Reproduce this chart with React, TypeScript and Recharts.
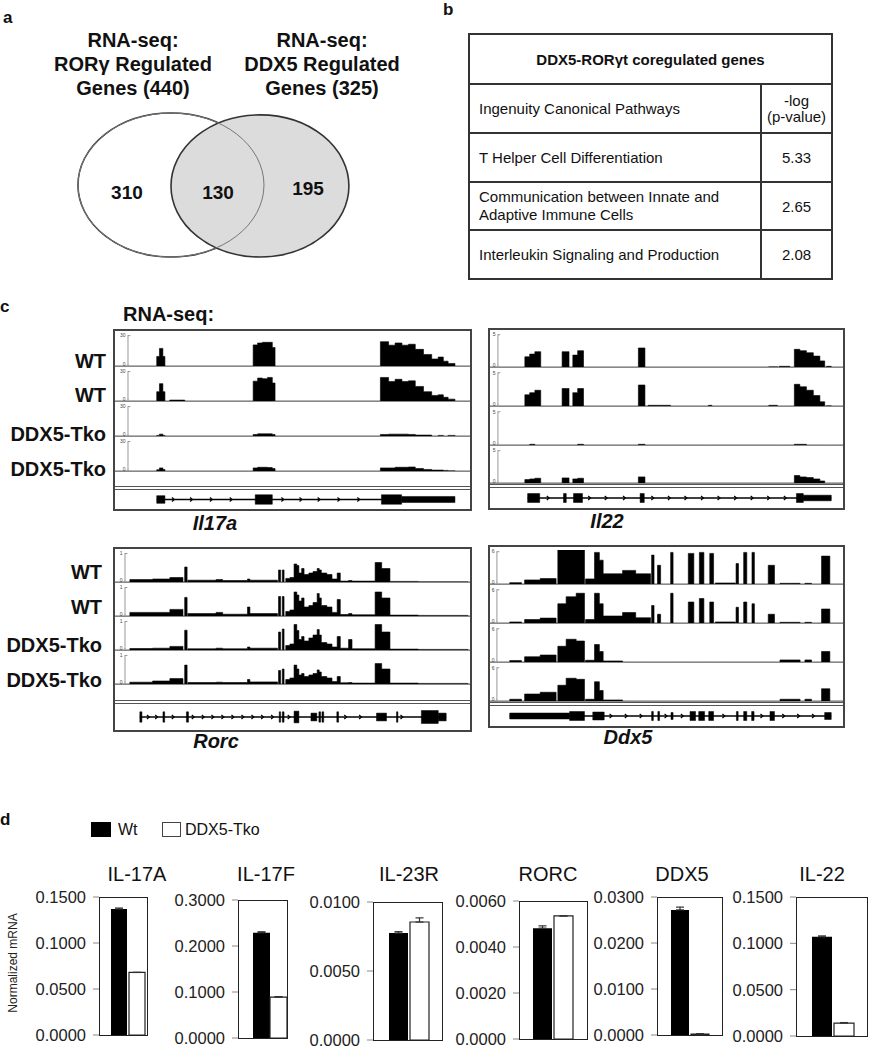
import React from "react";
import {
  AreaChart,
  Area,
  BarChart,
  Bar,
  ErrorBar,
  ComposedChart,
  Scatter,
  ScatterChart,
  XAxis,
  YAxis,
  ReferenceLine,
  ReferenceArea,
  ReferenceDot,
} from "recharts";

const FONT = '"Liberation Sans", Arial, Helvetica, sans-serif';

type Seg = [number, number];
type Exon = [number, number, number];

// ---- panel a: Venn ----
const vennSets = [
  { x: 35.8, y: 50, rx: 30, ry: 45 },
  { x: 64.5, y: 49.4, rx: 28.7, ry: 44.4 },
];
const vennCounts = [310, 130, 195];
const vennCountX = [21.6, 51, 80];
const vennCountY = [45.6, 45.6, 48.1];

// ---- panel b: pathways ----
const pathways = [
  ["T Helper Cell Differentiation"],
  ["Communication between Innate and", "Adaptive Immune Cells"],
  ["Interleukin Signaling and Production"],
];
const pathwayScores = ["5.33", "2.65", "2.08"];

// ---- panel c: coverage tracks (positions in % of locus, heights relative to track scale) ----
const sampleLabels = ["WT", "WT", "DDX5-Tko", "DDX5-Tko"];

const il17aSegs: Seg[] = [
  [8.4, 9.2], [9.2, 10.2], [10.2, 10.8], [12.2, 16.6],
  [36.6, 37.9], [37.9, 39.3], [39.3, 40.8], [40.8, 42.2], [42.2, 43.0],
  [73.8, 76.2], [76.2, 78.1], [78.1, 80.1], [80.1, 82.0], [82.0, 84.0], [84.0, 86.4],
  [86.4, 88.8], [88.8, 90.7], [90.7, 92.2], [92.2, 93.6], [93.6, 95.6],
];
const il17aCov = [
  [0.3, 0.55, 0.3, 0, 0.66, 0.72, 0.74, 0.74, 0.58, 0.76, 0.65, 0.72, 0.65, 0.68, 0.52, 0.36, 0.22, 0.28, 0.15, 0.08],
  [0.3, 0.56, 0.3, 0.03, 0.64, 0.74, 0.72, 0.76, 0.58, 0.76, 0.63, 0.7, 0.63, 0.65, 0.47, 0.3, 0.18, 0.2, 0.12, 0.06],
  [0.02, 0.06, 0.02, 0, 0.05, 0.07, 0.07, 0.07, 0.05, 0.05, 0.06, 0.06, 0.06, 0.05, 0.03, 0.03, 0, 0.02, 0, 0.02],
  [0.04, 0.1, 0.05, 0, 0.1, 0.12, 0.12, 0.11, 0.08, 0.1, 0.1, 0.12, 0.12, 0.13, 0.08, 0.05, 0.03, 0.03, 0.02, 0.01],
];
const il17aLine: Seg = [8.4, 95.6];
const il17aExons: Exon[] = [[8.4, 10.8, 0.4], [37.2, 42.2, 0.5], [74.1, 80.0, 0.5], [80.0, 95.6, 0.32]];
const il17aMarks = [13.2, 18.5, 24.3, 30.1, 45.2, 50.5, 55.8, 61.6, 67.4];

const il22Segs: Seg[] = [
  [7.8, 9.2], [9.2, 10.7], [10.7, 12.4], [18.6, 20.6], [21.7, 23.1], [23.1, 24.8],
  [40.7, 42.6], [43.5, 50.0], [61.0, 62.0], [78.5, 81.0], [81.5, 84.6],
  [85.9, 87.5], [87.5, 89.4], [89.4, 91.4], [91.4, 93.3], [93.3, 94.7], [95.2, 96.6],
];
const il22Cov = [
  [0.3, 0.38, 0.45, 0.45, 0.35, 0.48, 0.56, 0, 0, 0.01, 0.02, 0.52, 0.48, 0.42, 0.32, 0.18, 0.02],
  [0.32, 0.38, 0.45, 0.5, 0.38, 0.5, 0.6, 0.02, 0.02, 0.02, 0, 0.62, 0.55, 0.45, 0.3, 0.12, 0.01],
  [0, 0.02, 0, 0, 0, 0.02, 0.02, 0, 0, 0, 0, 0.02, 0.02, 0, 0, 0, 0],
  [0.1, 0.12, 0.14, 0.15, 0.12, 0.14, 0.18, 0, 0, 0, 0, 0.22, 0.18, 0.16, 0.12, 0.06, 0],
];
const il22Line: Seg = [8.6, 96.6];
const il22Exons: Exon[] = [
  [8.6, 12.1, 0.45], [19.0, 19.8, 0.45], [21.9, 24.5, 0.45], [41.2, 42.4, 0.45],
  [86.5, 88.5, 0.45], [88.5, 96.6, 0.28],
];
const il22Marks = [14.5, 26.5, 31.3, 36.6, 44.8, 49.6, 54.4, 59.2, 64.0, 68.8, 73.6, 78.4, 83.2];

const rorcSegs: Seg[] = [
  [1.4, 8.0], [8.0, 13.0], [13.0, 16.8], [17.3, 18.0], [18.2, 26.4], [26.4, 28.3], [28.3, 35.5],
  [35.5, 36.2], [36.2, 44.2], [44.5, 45.1], [45.6, 46.1], [46.6, 47.8], [47.8, 49.0], [49.0, 49.8],
  [49.8, 50.4], [50.4, 51.2], [51.2, 51.9], [51.9, 53.3], [53.3, 54.5], [54.5, 55.7], [55.7, 56.3],
  [56.3, 56.9], [56.9, 58.5], [58.5, 60.0], [60.0, 61.5], [61.5, 62.4], [62.4, 64.8], [64.8, 65.8],
  [65.8, 72.5], [72.5, 74.4], [74.4, 76.8], [76.8, 85.0], [85.0, 99.4],
];
const rorcCov = [
  [0.08, 0.1, 0.15, 0.5, 0.06, 0.08, 0.05, 0.1, 0.06, 0.4, 0.4, 0.12, 0.15, 0.6, 0.55, 0.3, 0.45, 0.25, 0.3, 0.35, 0.45, 0.4, 0.3, 0.25, 0.1, 0.3, 0.03, 0.05, 0.03, 0.65, 0.45, 0.02, 0.01],
  [0.12, 0.12, 0.22, 0.62, 0.08, 0.12, 0.06, 0.3, 0.08, 0.65, 0.65, 0.15, 0.2, 0.8, 0.7, 0.5, 0.6, 0.3, 0.35, 0.45, 0.75, 0.6, 0.35, 0.3, 0.12, 0.55, 0.05, 0.08, 0.04, 0.8, 0.6, 0.03, 0.02],
  [0.05, 0.06, 0.12, 0.66, 0.04, 0.06, 0.04, 0.1, 0.06, 0.6, 0.7, 0.15, 0.2, 0.85, 0.65, 0.35, 0.45, 0.3, 0.4, 0.5, 0.68, 0.5, 0.25, 0.2, 0.1, 0.45, 0.06, 0.35, 0.04, 0.85, 0.6, 0.03, 0.02],
  [0.06, 0.1, 0.18, 0.63, 0.05, 0.06, 0.05, 0.15, 0.07, 0.45, 0.5, 0.15, 0.2, 0.63, 0.5, 0.3, 0.35, 0.25, 0.3, 0.35, 0.47, 0.4, 0.25, 0.2, 0.08, 0.25, 0.04, 0.05, 0.03, 0.68, 0.5, 0.03, 0.02],
];
const rorcLine: Seg = [4.3, 93.1];
const rorcExons: Exon[] = [
  [4.3, 4.9, 0.4], [11.0, 11.5, 0.4], [17.8, 18.4, 0.4], [44.7, 45.1, 0.4], [45.6, 46.1, 0.4],
  [49.0, 50.4, 0.45], [53.9, 55.6, 0.3], [56.2, 56.7, 0.4], [57.1, 57.6, 0.4], [61.4, 61.9, 0.4],
  [72.9, 75.8, 0.3], [78.7, 79.1, 0.4], [85.9, 90.8, 0.5], [90.8, 93.1, 0.3],
];
const rorcMarks = [6.7, 9.1, 13.9, 19.7, 22.6, 25.4, 28.3, 31.2, 34.1, 37.0, 39.8, 42.7, 47.5, 63.9, 68.2, 80.2];

const ddx5Segs: Seg[] = [
  [3.7, 7.1], [8.0, 12.5], [12.5, 17.1], [17.6, 20.0], [20.0, 22.9], [22.9, 25.3], [25.6, 28.2],
  [28.2, 29.6], [29.6, 30.7], [30.7, 36.3], [36.3, 40.1], [40.1, 44.4], [44.7, 45.4], [46.4, 47.3],
  [50.2, 50.9], [55.3, 56.9], [58.5, 59.8], [61.5, 62.6], [63.1, 68.9], [69.1, 69.8], [71.3, 72.2],
  [73.7, 74.4], [78.4, 80.2], [81.8, 87.6], [89.0, 90.9], [93.8, 96.2],
];
const ddx5Cov = [
  [0.04, 0.12, 0.16, 1, 1, 1, 0.15, 0.93, 0.7, 0.3, 0.4, 0.3, 0.85, 0.55, 0.93, 0.9, 0.93, 0.9, 0.03, 0.6, 0.93, 0.93, 0.55, 0.02, 0.02, 0.82],
  [0.03, 0.1, 0.14, 0.55, 0.75, 0.85, 0.1, 0.85, 0.55, 0.2, 0.3, 0.15, 0.5, 0.25, 0.85, 0.6, 0.7, 0.6, 0.03, 0.45, 0.6, 0.55, 0.25, 0.02, 0.02, 0.4],
  [0.04, 0.15, 0.2, 0.45, 0.65, 0.6, 0.05, 0.5, 0.3, 0.03, 0, 0, 0, 0, 0, 0, 0, 0, 0, 0, 0, 0, 0, 0.06, 0.06, 0.3],
  [0.05, 0.2, 0.25, 0.45, 0.65, 0.62, 0.05, 0.55, 0.3, 0.03, 0, 0, 0, 0, 0, 0, 0, 0, 0, 0, 0, 0, 0, 0.05, 0.05, 0.35],
];
const ddx5Line: Seg = [3.7, 96.6];
const ddx5Exons: Exon[] = [
  [3.7, 21.0, 0.3], [21.0, 25.3, 0.45], [27.7, 31.0, 0.4], [44.7, 45.2, 0.45], [46.5, 47.0, 0.45],
  [50.3, 50.9, 0.35], [55.8, 57.4, 0.45], [58.3, 60.0, 0.45], [61.2, 62.6, 0.45], [69.2, 69.7, 0.45],
  [71.3, 72.2, 0.45], [73.6, 74.3, 0.45], [78.9, 80.2, 0.45], [94.7, 96.6, 0.35],
];
const ddx5Marks = [32.9, 37.3, 41.6, 48.8, 53.5, 65.5, 76.5, 82.8, 87.1, 91.4];

// ---- panel d: qPCR ----
const genes = ["IL-17A", "IL-17F", "IL-23R", "RORC", "DDX5", "IL-22"];
const wtValues = [0.137, 0.229, 0.00775, 0.00482, 0.0272, 0.107];
const tkoValues = [0.068, 0.089, 0.00855, 0.00535, 0.0002, 0.014];
const wtErr = [0.001, 0.002, 0.0001, 0.0001, 0.0006, 0.001];
const tkoErr = [0, 0.001, 0.0003, 0, 0.0001, 0.0005];
const yMax = [0.15, 0.3, 0.01, 0.006, 0.03, 0.15];
const yTicks = [
  [0, 0.05, 0.1, 0.15],
  [0, 0.1, 0.2, 0.3],
  [0, 0.005, 0.01],
  [0, 0.002, 0.004, 0.006],
  [0, 0.01, 0.02, 0.03],
  [0, 0.05, 0.1, 0.15],
];

// ---------------- helpers ----------------
const Txt = ({
  x, y, children, size = 16, bold = false, italic = false, anchor = "middle",
}: {
  x: number; y: number; children: React.ReactNode; size?: number; bold?: boolean; italic?: boolean; anchor?: string;
}) => {
  const tx = anchor === "middle" ? "-50%" : anchor === "end" ? "-100%" : "0";
  return (
    <div
      style={{
        position: "absolute", left: x, top: y, transform: `translate(${tx}, -50%)`,
        fontSize: size, fontWeight: bold ? 700 : 400, fontStyle: italic ? "italic" : "normal",
        whiteSpace: "nowrap", lineHeight: 1.15, color: "#111",
      }}
    >
      {children}
    </div>
  );
};

const buildCoverage = (segs: Seg[], heights: number[], start: number) => {
  const pts = [{ x: start, v: 0 }];
  segs.forEach(([a, b], i) => {
    pts.push({ x: a, v: heights[i] });
    const next = segs[i + 1];
    if (!next || next[0] > b) pts.push({ x: b, v: 0 });
  });
  pts.push({ x: 100, v: 0 });
  return pts;
};

const markShape = (p: any) => (
  <path d={`M${p.cx - 1.2},${p.cy - 2} L${p.cx + 1.2},${p.cy} L${p.cx - 1.2},${p.cy + 2}`} stroke="#000" strokeWidth={1.2} fill="none" />
);

interface PanelProps {
  left: number; top: number; width: number;
  tracks: number[]; blank: number; geneH: number; pad: number; scale: string;
  segs: Seg[]; cov: number[][]; line: Seg; exons: Exon[]; marks: number[];
}

const TrackPanel = ({ left, top, width, tracks, blank, geneH, pad, scale, segs, cov, line, exons, marks }: PanelProps) => {
  const inner = width - 4;
  return (
    <div style={{ position: "absolute", left, top, width, border: "2px solid #444", boxSizing: "border-box", background: "#fff" }}>
      {tracks.map((h, i) => (
        <div key={i} style={{ height: h, borderBottom: "1px solid #888", boxSizing: "border-box" }}>
          <AreaChart width={inner} height={h - 1} data={buildCoverage(segs, cov[i], -pad)} margin={{ top: 3, right: 0, bottom: 0, left: 0 }}>
            <XAxis type="number" dataKey="x" domain={[-pad, 100]} hide allowDataOverflow />
            <YAxis type="number" domain={[0, 1]} hide allowDataOverflow />
            <ReferenceLine segment={[{ x: 0, y: 0 }, { x: 0, y: 0.95 }]} stroke="#999" strokeWidth={1} />
            <ReferenceLine segment={[{ x: 0, y: 0.95 }, { x: 0.7, y: 0.95 }]} stroke="#999" strokeWidth={1} />
            <ReferenceDot x={0} y={0.95} r={0.5} fill="#999" stroke="none" label={{ value: scale, position: "left", fontSize: 5, fill: "#444", offset: 2 }} />
            <ReferenceDot x={0} y={0.05} r={0.5} fill="#999" stroke="none" label={{ value: "0", position: "left", fontSize: 5, fill: "#444", offset: 2 }} />
            <Area type="stepAfter" dataKey="v" fill="#000" fillOpacity={1} stroke="#000" strokeWidth={0.6} isAnimationActive={false} />
          </AreaChart>
        </div>
      ))}
      {blank > 0 && <div style={{ height: blank }} />}
      <div style={{ borderTop: "4px double #555" }}>
        <ComposedChart width={inner} height={geneH} data={marks.map((m) => ({ x: m, y: 0 }))} margin={{ top: 0, right: 0, bottom: 0, left: 0 }}>
          <XAxis type="number" dataKey="x" domain={[-pad, 100]} hide />
          <YAxis type="number" dataKey="y" domain={[-1, 1]} hide />
          <ReferenceLine segment={[{ x: line[0], y: 0 }, { x: line[1], y: 0 }]} stroke="#000" strokeWidth={1.5} />
          {exons.map(([a, b, h], i) => (
            <ReferenceArea key={i} x1={a} x2={b} y1={-h} y2={h} fill="#000" fillOpacity={1} stroke="#000" strokeWidth={0.5} ifOverflow="visible" />
          ))}
          <Scatter dataKey="y" shape={markShape} isAnimationActive={false} />
        </ComposedChart>
      </div>
    </div>
  );
};

const ellipse = (fill: string, stroke: string, sw: number) => (p: any) => (
  <ellipse cx={p.cx} cy={p.cy} rx={p.payload.rx * 3.1} ry={p.payload.ry * 1.6} fill={fill} stroke={stroke} strokeWidth={sw} />
);

const countShape = (p: any) => (
  <text x={p.cx} y={p.cy} textAnchor="middle" dominantBaseline="central" fontSize={19} fontWeight={700} fontFamily={FONT} fill="#111">
    {p.payload.label}
  </text>
);

// layout of the six bar charts (plot box in page pixels)
const barBoxes = [
  { left: 99, top: 897, w: 48, h: 138, padL: 10, padR: 0, size: 16, tx: 137 },
  { left: 238, top: 900, w: 49, h: 138, padL: 14, padR: 0, size: 17, tx: 266 },
  { left: 373, top: 902, w: 69, h: 138, padL: 2, padR: 0, size: 19, tx: 409 },
  { left: 519, top: 901, w: 68, h: 138, padL: 0, padR: 1, size: 19, tx: 548 },
  { left: 657, top: 897, w: 65, h: 138, padL: 1, padR: 0, size: 18, tx: 682 },
  { left: 796, top: 897, w: 71, h: 139, padL: 2, padR: 0, size: 20, tx: 822 },
];

const ExprChart = ({ i }: { i: number }) => {
  const b = barBoxes[i];
  const data = [{ name: genes[i], wt: wtValues[i], tko: tkoValues[i], wtE: [0, wtErr[i]], tkoE: [0, tkoErr[i]] }];
  const yw = 80;
  return (
    <>
      <Txt x={b.tx} y={874} size={20}>{genes[i]}</Txt>
      <div style={{ position: "absolute", left: b.left - yw, top: b.top - 10 }}>
        <BarChart width={yw + b.w} height={b.h + 20} data={data} margin={{ top: 10, right: 0, bottom: 10, left: 0 }} barGap={2} barCategoryGap={0}>
          <XAxis dataKey="name" hide padding={{ left: b.padL, right: b.padR }} />
          <YAxis
            width={yw}
            domain={[0, yMax[i]]}
            ticks={yTicks[i]}
            interval={0}
            axisLine={false}
            tickLine={{ stroke: "#888" }}
            tickSize={6}
            tickMargin={7}
            tick={{ fontSize: 16.5, fill: "#222", fontFamily: FONT }}
            tickFormatter={(v: number) => v.toFixed(4)}
          />
          <Bar dataKey="wt" fill="#000" barSize={b.size} isAnimationActive={false}>
            <ErrorBar dataKey="wtE" width={4} stroke="#333" strokeWidth={1.2} />
          </Bar>
          <Bar dataKey="tko" fill="#fff" stroke="#222" strokeWidth={1.2} barSize={b.size} isAnimationActive={false}>
            <ErrorBar dataKey="tkoE" width={4} stroke="#333" strokeWidth={1.2} />
          </Bar>
        </BarChart>
      </div>
      <div style={{ position: "absolute", left: b.left, top: b.top, width: b.w + 1, height: b.h + 1, border: "1px solid #222", boxSizing: "border-box", pointerEvents: "none" }} />
    </>
  );
};

const cell: React.CSSProperties = { border: "2px solid #333", padding: "0 0 0 9px", fontSize: 15, color: "#111" };

export default function App() {
  return (
    <div style={{ position: "absolute", left: 0, top: 0, width: 869, height: 1050, background: "#fff", fontFamily: FONT, overflow: "hidden" }}>
      {/* a */}
      <Txt x={3} y={18} size={17} bold anchor="start">a</Txt>
      <div style={{ position: "absolute", left: 133, top: 28, transform: "translateX(-50%)", textAlign: "center", fontSize: 20, fontWeight: 700, lineHeight: "24px", whiteSpace: "nowrap", color: "#111" }}>
        RNA-seq:<br />RORγ Regulated<br />Genes (440)
      </div>
      <div style={{ position: "absolute", left: 322, top: 28, transform: "translateX(-50%)", textAlign: "center", fontSize: 20, fontWeight: 700, lineHeight: "24px", whiteSpace: "nowrap", color: "#111" }}>
        RNA-seq:<br />DDX5 Regulated<br />Genes (325)
      </div>
      <div style={{ position: "absolute", left: 60, top: 105 }}>
        <ScatterChart width={310} height={160} margin={{ top: 0, right: 0, bottom: 0, left: 0 }}>
          <XAxis type="number" dataKey="x" domain={[0, 100]} hide />
          <YAxis type="number" dataKey="y" domain={[0, 100]} hide />
          <Scatter data={[vennSets[0]]} shape={ellipse("#fff", "#333", 1.6)} isAnimationActive={false} />
          <Scatter data={[vennSets[1]]} shape={ellipse("#dcdcdc", "#333", 1.6)} isAnimationActive={false} />
          <Scatter data={[vennSets[0]]} shape={ellipse("none", "#777", 1)} isAnimationActive={false} />
          <Scatter
            data={vennCounts.map((c, i) => ({ x: vennCountX[i], y: vennCountY[i], label: c }))}
            shape={countShape}
            isAnimationActive={false}
          />
        </ScatterChart>
      </div>

      {/* b */}
      <Txt x={443} y={10} size={17} bold anchor="start">b</Txt>
      <table style={{ position: "absolute", left: 468, top: 33, width: 363, height: 246, borderCollapse: "collapse", tableLayout: "fixed", fontFamily: FONT }}>
        <colgroup>
          <col style={{ width: 292 }} />
          <col style={{ width: 71 }} />
        </colgroup>
        <tbody>
          <tr style={{ height: 50 }}>
            <td colSpan={2} style={{ ...cell, padding: 0, textAlign: "center", fontWeight: 700 }}>DDX5-RORγt coregulated genes</td>
          </tr>
          <tr style={{ height: 49 }}>
            <td style={cell}>Ingenuity Canonical Pathways</td>
            <td style={{ ...cell, textAlign: "center", padding: 0, lineHeight: "16px", whiteSpace: "nowrap" }}>-log<br />(p-value)</td>
          </tr>
          {pathways.map((p, i) => (
            <tr key={i} style={{ height: i === 1 ? 48 : 49 }}>
              <td style={{ ...cell, lineHeight: "18px" }}>
                {p.map((l, j) => (
                  <React.Fragment key={j}>{j > 0 && <br />}{l}</React.Fragment>
                ))}
              </td>
              <td style={{ ...cell, padding: 0, textAlign: "center" }}>{pathwayScores[i]}</td>
            </tr>
          ))}
        </tbody>
      </table>

      {/* c */}
      <Txt x={0} y={307} size={17} bold anchor="start">c</Txt>
      <Txt x={123} y={314} size={20} bold anchor="start">RNA-seq:</Txt>
      {[361, 395, 434, 469].map((y, i) => (
        <Txt key={`a${i}`} x={106} y={y} size={20} bold anchor="end">{sampleLabels[i]}</Txt>
      ))}
      {[572, 607, 645, 680].map((y, i) => (
        <Txt key={`r${i}`} x={102} y={y} size={20} bold anchor="end">{sampleLabels[i]}</Txt>
      ))}
      <TrackPanel left={113} top={329} width={359} tracks={[36, 35, 35, 35]} blank={14} geneH={19} pad={3.8} scale="30"
        segs={il17aSegs} cov={il17aCov} line={il17aLine} exons={il17aExons} marks={il17aMarks} />
      <TrackPanel left={488} top={328} width={357} tracks={[38, 39, 39, 38]} blank={0} geneH={20} pad={2.3} scale="5"
        segs={il22Segs} cov={il22Cov} line={il22Line} exons={il22Exons} marks={il22Marks} />
      <TrackPanel left={113} top={547} width={359} tracks={[34, 34, 34, 34]} blank={15} geneH={26} pad={2.9} scale="1"
        segs={rorcSegs} cov={rorcCov} line={rorcLine} exons={rorcExons} marks={rorcMarks} />
      <TrackPanel left={488} top={545} width={357} tracks={[38, 39, 39, 39]} blank={0} geneH={20} pad={2.0} scale="6"
        segs={ddx5Segs} cov={ddx5Cov} line={ddx5Line} exons={ddx5Exons} marks={ddx5Marks} />
      <Txt x={215} y={523} size={20} bold italic>Il17a</Txt>
      <Txt x={607} y={521} size={20} bold italic>Il22</Txt>
      <Txt x={216} y={741} size={20} bold italic>Rorc</Txt>
      <Txt x={628} y={737} size={20} bold italic>Ddx5</Txt>

      {/* d */}
      <Txt x={0} y={820} size={17} bold anchor="start">d</Txt>
      <div style={{ position: "absolute", left: 91, top: 822, width: 20, height: 15, background: "#000" }} />
      <Txt x={118} y={830} size={16} anchor="start">Wt</Txt>
      <div style={{ position: "absolute", left: 162, top: 822, width: 19, height: 15, border: "1px solid #444", boxSizing: "border-box" }} />
      <Txt x={185} y={830} size={16} anchor="start">DDX5-Tko</Txt>
      <div style={{ position: "absolute", left: 13, top: 963, transform: "translate(-50%, -50%) rotate(-90deg)", fontSize: 12, whiteSpace: "nowrap", color: "#222" }}>
        Normalized mRNA
      </div>
      {genes.map((_, i) => (
        <ExprChart key={i} i={i} />
      ))}
    </div>
  );
}
